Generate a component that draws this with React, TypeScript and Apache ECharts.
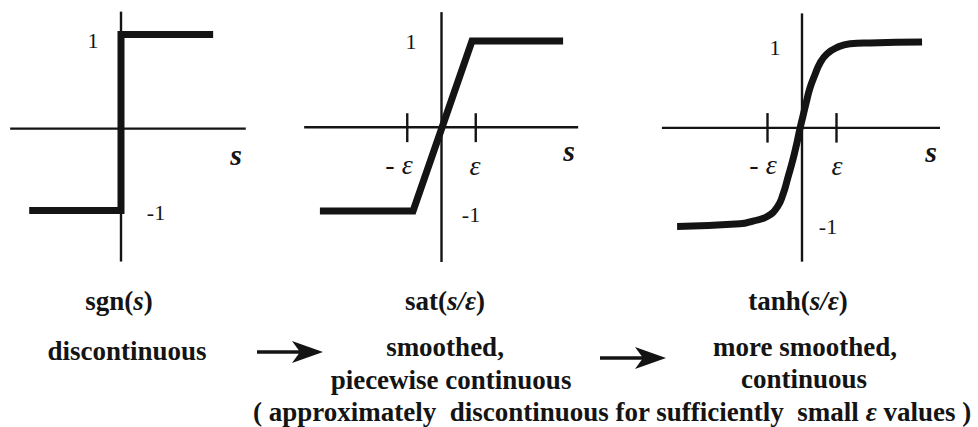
import React, { useEffect, useRef } from "react";
import * as echarts from "echarts";

// sgn(s): ideal switching function
const sgnS = [-2.7, 0, 0, 2.71];
const sgnV = [-1, -1, 1, 1];

// sat(s/ε): saturation, linear between -ε and ε
const satS = [-3.55, -0.83, 0.89, 3.55];
const satV = [-1, -1, 1, 1];

// tanh(s/ε): smooth switching curve
const tanhS = [-3.62, -1.8, -1.42, -1.01, -0.72, -0.55, -0.41, -0.26, -0.14, -0.06, 0.03, 0.12, 0.23, 0.38, 0.52, 0.72, 1.01, 1.39, 1.97, 3.48];
const tanhV = [-1.0, -0.97, -0.94, -0.89, -0.79, -0.65, -0.47, -0.27, -0.08, 0.06, 0.2, 0.34, 0.5, 0.65, 0.77, 0.87, 0.94, 0.98, 0.99, 1.0];

// coordinate axes of each plot: s-axis extent and level, vertical axis extent
const sAxisExtent = [
  [-3.26, 3.67],
  [-4.01, 3.99],
  [-4.06, 4.0],
];
const sAxisLevel = [-0.07, -0.015, 0.07];
const vAxisExtent = [
  [-1.58, 1.26],
  [-1.6, 1.34],
  [-1.38, 1.31],
];
// ±ε tick marks (sat and tanh plots)
const epsTicks = [-1, 1];
const epsTickSpan = [
  [-0.19, 0.15],
  [-0.09, 0.23],
];

const INK = "#141414";
const SERIF = "Liberation Serif";

// pixel placement of each plot's origin and unit lengths
const frames = [
  { ox: 121, oy: 122.5, ux: 34, uy: 88, x: [-3.5, 3.8], y: [-1.62, 1.35] },
  { ox: 441.5, oy: 126, ux: 34.25, uy: 85, x: [-4.2, 4.2], y: [-1.62, 1.4] },
  { ox: 802, oy: 134.3, ux: 34.5, uy: 92.3, x: [-4.2, 4.2], y: [-1.45, 1.38] },
];

const pairs = (xs: number[], ys: number[]) => xs.map((x, i) => [x, ys[i]]);

function buildOption() {
  const grid = frames.map((f) => ({
    left: f.ox + f.x[0] * f.ux,
    top: f.oy - f.y[1] * f.uy,
    width: (f.x[1] - f.x[0]) * f.ux,
    height: (f.y[1] - f.y[0]) * f.uy,
    containLabel: false,
  }));
  const xAxis = frames.map((f, i) => ({ type: "value", gridIndex: i, min: f.x[0], max: f.x[1], show: false }));
  const yAxis = frames.map((f, i) => ({ type: "value", gridIndex: i, min: f.y[0], max: f.y[1], show: false }));

  const seg = (i: number, data: number[][], width: number, extra: any = {}) => ({
    type: "line",
    xAxisIndex: i,
    yAxisIndex: i,
    data,
    showSymbol: false,
    symbol: "none",
    clip: false,
    silent: true,
    lineStyle: { color: INK, width, cap: "butt", join: "miter" },
    ...extra,
  });

  const series: any[] = [];
  for (let i = 0; i < 3; i++) {
    const [s0, s1] = sAxisExtent[i];
    series.push(seg(i, [[s0, sAxisLevel[i]], [s1, sAxisLevel[i]]], 2.4));
    const [v0, v1] = vAxisExtent[i];
    series.push(seg(i, [[0, v0], [0, v1]], 2.4));
  }
  [1, 2].forEach((i) => {
    const [t0, t1] = epsTickSpan[i - 1];
    epsTicks.forEach((t) => series.push(seg(i, [[t, t0], [t, t1]], 2.4)));
  });
  series.push(seg(0, pairs(sgnS, sgnV), 7, { z: 5 }));
  series.push(seg(1, pairs(satS, satV), 7, { z: 5 }));
  series.push(
    seg(2, pairs(tanhS, tanhV), 7, {
      z: 5,
      smooth: 0.5,
      lineStyle: { color: INK, width: 7, cap: "butt", join: "round" },
    })
  );

  const fontOf = (size: number, weight = "normal", style = "normal") => `${style} ${weight} ${size}px ${SERIF}`;

  // text drawn with zrender's own style keys (legacy: false keeps the rich fonts intact)
  const text = (content: string, x: number, y: number, font: string, rich?: any) => ({
    type: "text",
    x,
    y,
    silent: true,
    style: {
      legacy: false,
      text: content,
      fill: INK,
      font,
      align: "center",
      verticalAlign: "middle",
      ...(rich ? { rich } : {}),
    },
  });

  const label = (content: string, x: number, y: number, size: number, style = "normal", weight = "normal") =>
    text(content, x, y, fontOf(size, weight, style));

  const rich = (content: string, x: number, y: number, size = 27) =>
    text(content, x, y, fontOf(size, "bold"), {
      b: { font: fontOf(size, "bold"), fill: INK },
      i: { font: fontOf(size, "bold", "italic"), fill: INK },
    });

  const arrow = (x0: number, x1: number, y: number) => ({
    type: "group",
    silent: true,
    children: [
      { type: "line", shape: { x1: x0, y1: y, x2: x1 - 8, y2: y }, style: { stroke: INK, lineWidth: 3.6 } },
      {
        type: "polygon",
        shape: { points: [[x1, y], [x1 - 31, y - 11], [x1 - 23, y], [x1 - 31, y + 11]] },
        style: { fill: INK },
      },
    ],
  });

  const graphic: any[] = [
    // plot labels
    label("1", 93, 40, 22),
    label("-1", 156, 212, 22),
    label("s", 236, 154, 30, "italic", "bold"),
    label("1", 411, 41, 22),
    label("-1", 471, 214, 22),
    label("- ε", 399, 164, 28, "italic"),
    label("ε", 475, 165, 28, "italic"),
    label("s", 569, 150, 30, "italic", "bold"),
    label("1", 775, 47, 22),
    label("-1", 828, 226, 22),
    label("- ε", 763, 164, 28, "italic"),
    label("ε", 837, 165, 28, "italic"),
    label("s", 931, 151, 30, "italic", "bold"),
    // function names
    rich("{b|sgn(}{i|s}{b|)}", 119, 301),
    rich("{b|sat(}{i|s/ε}{b|)}", 445, 301),
    rich("{b|tanh(}{i|s/ε}{b|)}", 798, 301),
    // descriptions
    rich("{b|discontinuous}", 127, 351),
    rich("{b|smoothed,}", 445, 347),
    rich("{b|piecewise continuous}", 451, 380),
    rich("{b|more smoothed,}", 805, 347),
    rich("{b|continuous}", 804, 379),
    rich("{b|( approximately  discontinuous for sufficiently  small }{i|ε}{b| values )}", 612, 412),
    arrow(257, 323, 352),
    arrow(600, 666, 358),
  ];

  return {
    animation: false,
    backgroundColor: "#ffffff",
    grid,
    xAxis,
    yAxis,
    series,
    graphic,
  };
}

export default function App() {
  const ref = useRef<HTMLDivElement>(null);
  useEffect(() => {
    if (!ref.current) return;
    const chart = echarts.init(ref.current, undefined, { renderer: "svg" });
    chart.setOption(buildOption() as any);
    return () => chart.dispose();
  }, []);
  return (
    <div
      ref={ref}
      style={{ position: "fixed", left: 0, top: 0, width: 978, height: 427, background: "#fff" }}
    />
  );
}
